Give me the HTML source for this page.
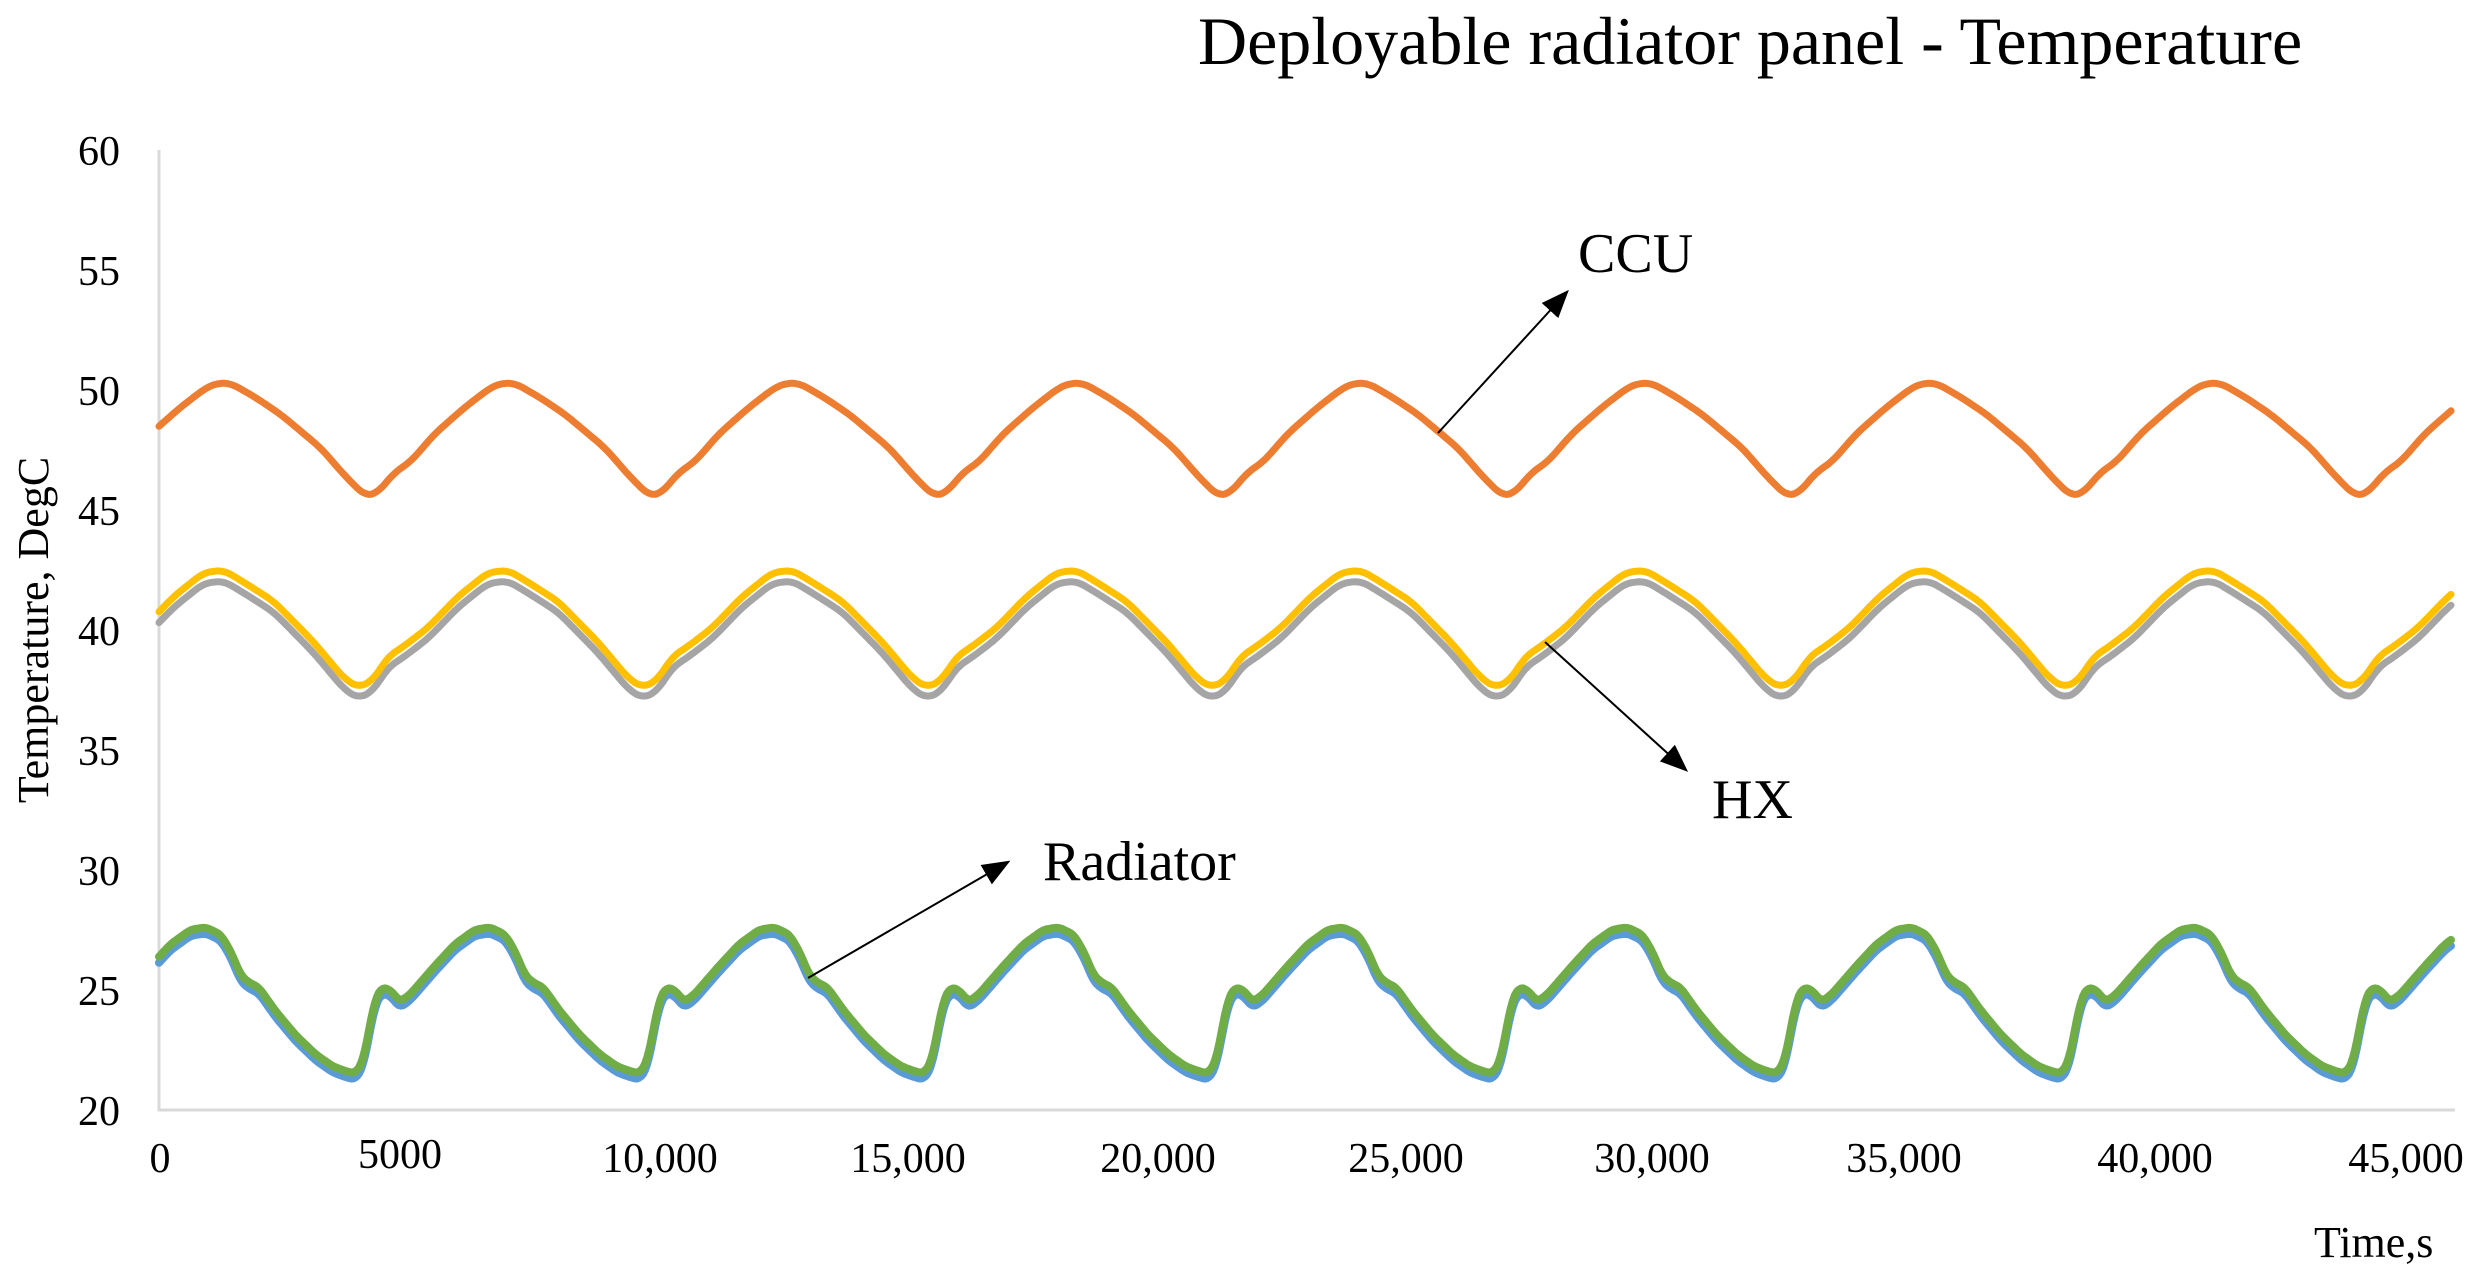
<!DOCTYPE html>
<html><head><meta charset="utf-8"><style>
html,body{margin:0;padding:0;background:#fff;}
svg{display:block;}
text{font-family:"Liberation Serif",serif;fill:#000;}
</style></head><body>
<svg id="s" width="2473" height="1279" viewBox="0 0 2473 1279" xmlns="http://www.w3.org/2000/svg">
<defs>
<marker id="a" viewBox="0 0 10 10" refX="9" refY="5" markerWidth="28" markerHeight="28" markerUnits="userSpaceOnUse" orient="auto"><path d="M0,1 L10,5 L0,9 z" fill="#000"/></marker></defs>
<text x="1198" y="64" font-size="68">Deployable radiator panel - Temperature</text>
<line x1="159" y1="150" x2="159" y2="1111" stroke="#d9d9d9" stroke-width="3"/>
<line x1="158" y1="1110" x2="2455" y2="1110" stroke="#d9d9d9" stroke-width="3"/>
<g font-size="42" text-anchor="end">
<text x="120" y="165">60</text><text x="120" y="285">55</text><text x="120" y="405">50</text><text x="120" y="525">45</text><text x="120" y="645">40</text><text x="120" y="765">35</text><text x="120" y="885">30</text><text x="120" y="1005">25</text><text x="120" y="1125">20</text>
</g>
<g font-size="42" text-anchor="middle">
<text x="160" y="1172">0</text><text x="400" y="1168">5000</text><text x="660" y="1172">10,000</text><text x="908" y="1172">15,000</text><text x="1158" y="1172">20,000</text><text x="1406" y="1172">25,000</text><text x="1652" y="1172">30,000</text><text x="1904" y="1172">35,000</text><text x="2155" y="1172">40,000</text><text x="2406" y="1172">45,000</text>
</g>
<text x="2314" y="1257" font-size="44">Time,s</text>
<text transform="translate(48,630) rotate(-90)" font-size="44" text-anchor="middle">Temperature, DegC</text>
<g id="series"></g>
<line x1="1438" y1="433" x2="1567" y2="292" stroke="#000" stroke-width="2" marker-end="url(#a)"/>
<line x1="1545" y1="642" x2="1686" y2="770" stroke="#000" stroke-width="2" marker-end="url(#a)"/>
<line x1="808" y1="978" x2="1008" y2="862" stroke="#000" stroke-width="2" marker-end="url(#a)"/>
<text x="1578" y="272" font-size="56">CCU</text>
<text x="1712" y="818" font-size="56">HX</text>
<text x="1043" y="880" font-size="56">Radiator</text>
</svg>
<script>
var P=284.3,X0=159,X1=2451;
function Y(T){return 1109.5-(T-20)*23.97;}
function interp(k,o){for(var i=0;i<k.length-1;i++){if(o>=k[i][0]&&o<=k[i+1][0]){var t=(o-k[i][0])/(k[i+1][0]-k[i][0]);return k[i][1]+(k[i+1][1]-k[i][1])*t;}}return k[k.length-1][1];}
function path(k,ref,dT,color,w,sm){var raw=[];for(var x=X0-20;x<=X1+20;x++){var o=((x-ref)%P+P)%P;raw.push(interp(k,o)+dT);}
var d="";for(var x=X0;x<=X1;x+=2){var i=x-(X0-20),s=0,n=0;for(var j=-sm;j<=sm;j++){s+=raw[i+j];n++;}var T=s/n;d+=(d?"L":"M")+x+","+Y(T).toFixed(1);}
var p=document.createElementNS("http://www.w3.org/2000/svg","path");p.setAttribute("d",d);p.setAttribute("fill","none");p.setAttribute("stroke",color);p.setAttribute("stroke-width",w);p.setAttribute("stroke-linejoin","round");p.setAttribute("stroke-linecap","round");document.getElementById("series").appendChild(p);}
var ccu=[[0,45.6],[12,45.7],[30,46.6],[45,47.0],[70,48.2],[100,49.3],[125,50.1],[136,50.3],[150,50.3],[175,49.7],[200,49.0],[240,47.6],[265,46.4],[284.3,45.6]];
var hx=[[0,37.6],[15,37.9],[30,38.9],[45,39.3],[70,40.1],[100,41.4],[130,42.4],[150,42.5],[170,42.0],[200,41.2],[240,39.5],[270,38.0],[284.3,37.6]];
var rad=[[0,21.5],[8,22.0],[20,24.6],[27,25.1],[35,25.0],[45,24.5],[55,24.8],[80,26.0],[100,26.9],[120,27.5],[135,27.6],[150,27.3],[160,26.6],[170,25.6],[178,25.3],[188,25.1],[205,24.1],[225,23.1],[245,22.3],[262,21.8],[275,21.6],[284.3,21.5]];
path(hx,358,-0.45,"#a5a5a5",7,8);
path(hx,358,0,"#ffc000",7,8);
path(ccu,365,0,"#ed7d31",7,8);
path(rad,355,-0.25,"#5b9bd5",8,4);
path(rad,355,0,"#70ad47",8,4);
</script>
</body></html>
